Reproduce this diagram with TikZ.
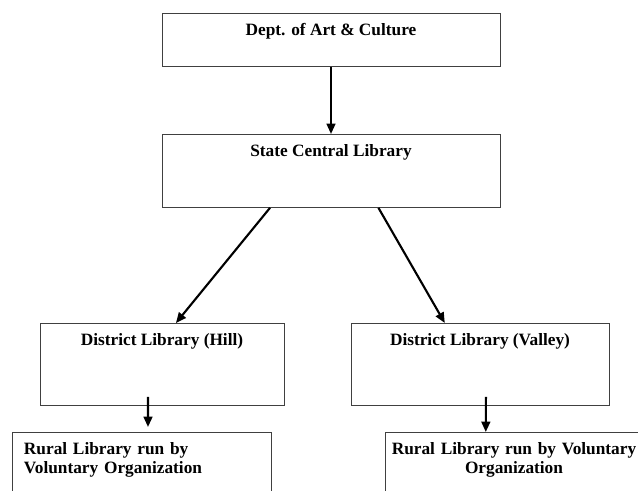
\documentclass[tikz,border=0pt]{standalone}
\usepackage{fontspec}
\setmainfont{Liberation Serif}
\usepackage{tikz}
\usetikzlibrary{arrows.meta, calc}

\begin{document}
\begin{tikzpicture}[scale=1.0,
  box/.style={draw=black!75, line width=0.6pt, anchor=north, inner ysep=0.25cm, text height=0.3cm, font=\fontsize{12.3}{13.6}\selectfont\bfseries},
  link/.style={-{Triangle[length=2.6mm,width=2.2mm]}, line width=1.5pt}]
\useasboundingbox (0,0) rectangle (15.95,12.275);
\clip (0,0) rectangle (15.95,12.275);
\node[box, minimum width=8.45cm, text depth=0.525cm] (dept) at (8.275,11.95) {Dept. of Art \& Culture};
\node[box, minimum width=8.45cm, text depth=1.025cm] (state) at (8.275,8.925) {State Central Library};
\node[box, minimum width=6.1cm, text depth=1.25cm] (hill) at (4.05,4.2) {District Library (Hill)};
\node[box, minimum width=6.45cm, text depth=1.25cm] (valley) at (12.0,4.2) {District Library (Valley)};
\node[box, inner xsep=0.3cm, text width=5.875cm, align=left, text depth=2.5cm] (ruralL) at (3.5375,1.475) {Rural Library run by\\Voluntary Organization};
\node[box, inner xsep=0.1cm, text width=6.25cm, align=center, text depth=2.5cm] (ruralR) at (12.85,1.475) {Rural Library run by Voluntary\\Organization};
\draw[link] (dept.south) -- (state.north);
\draw[link] ($(state.south west)!0.32!(state.south east)$) -- ($(hill.north west)!0.557!(hill.north east)$);
\draw[link] ($(state.south west)!0.64!(state.south east)$) -- ($(valley.north west)!0.364!(valley.north east)$);
\draw[link] ($(hill.south west)!0.443!(hill.south east)+(0,0.225)$) -- ($(ruralL.north west)!0.525!(ruralL.north east)+(0,0.125)$);
\draw[link] ($(valley.south west)!0.523!(valley.south east)+(0,0.225)$) -- ($(ruralR.north west)!0.391!(ruralR.north east)$);
\end{tikzpicture}
\end{document}
